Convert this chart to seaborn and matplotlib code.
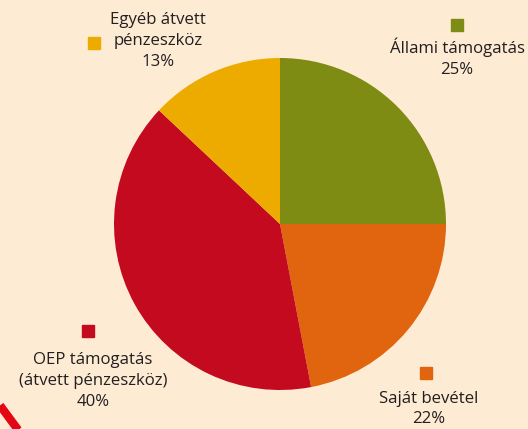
import matplotlib
matplotlib.use('Agg')
import matplotlib.pyplot as plt
import seaborn as sns
from matplotlib.lines import Line2D

labels = ['Állami támogatás', 'Saját bevétel', 'OEP támogatás\n(átvett pénzeszköz)', 'Egyéb átvett\npénzeszköz']
shares = [25, 22, 40, 13]
colors = ['#7F8C13', '#E1640F', '#C30A1F', '#EDAB00']

# label block centres and marker squares (pixels, y from top)
label_pos = [(457, 58), (429, 409), (93, 381), (158, 41)]
marker_pos = [(457, 25), (426, 373), (88, 331), (94, 43)]

sns.set_theme(style='white')
plt.rcParams['font.family'] = ['Open Sans', 'DejaVu Sans']

W, H = 528, 429
bg = '#FEEBD4'
fig = plt.figure(figsize=(W / 100, H / 100), dpi=100, facecolor=bg)
ax = fig.add_axes([0, 0, 1, 1])
ax.set_facecolor(bg)

palette = sns.color_palette(colors)
ax.pie(shares, colors=palette, startangle=90, counterclock=False,
       center=(280, H - 224), radius=166, frame=True,
       wedgeprops=dict(linewidth=0))
ax.set_xlim(0, W)
ax.set_ylim(0, H)
ax.set_aspect('equal')
ax.axis('off')

for lab, val, (tx, ty), (mx, my), c in zip(labels, shares, label_pos, marker_pos, palette):
    ax.text(tx, H - ty, f'{lab}\n{val}%', ha='center', va='center', fontsize=12.1,
            color='#231F20', linespacing=1.38)
    ax.plot(mx, H - my, marker='s', markersize=8.5, color=c, linestyle='none')

# red corner stroke
fig.add_artist(Line2D([0, 0.036], [0.055, -0.005], transform=fig.transFigure,
                      color='#E30613', linewidth=6, solid_capstyle='butt'))

fig.savefig('out.png', dpi=100, facecolor=bg)
